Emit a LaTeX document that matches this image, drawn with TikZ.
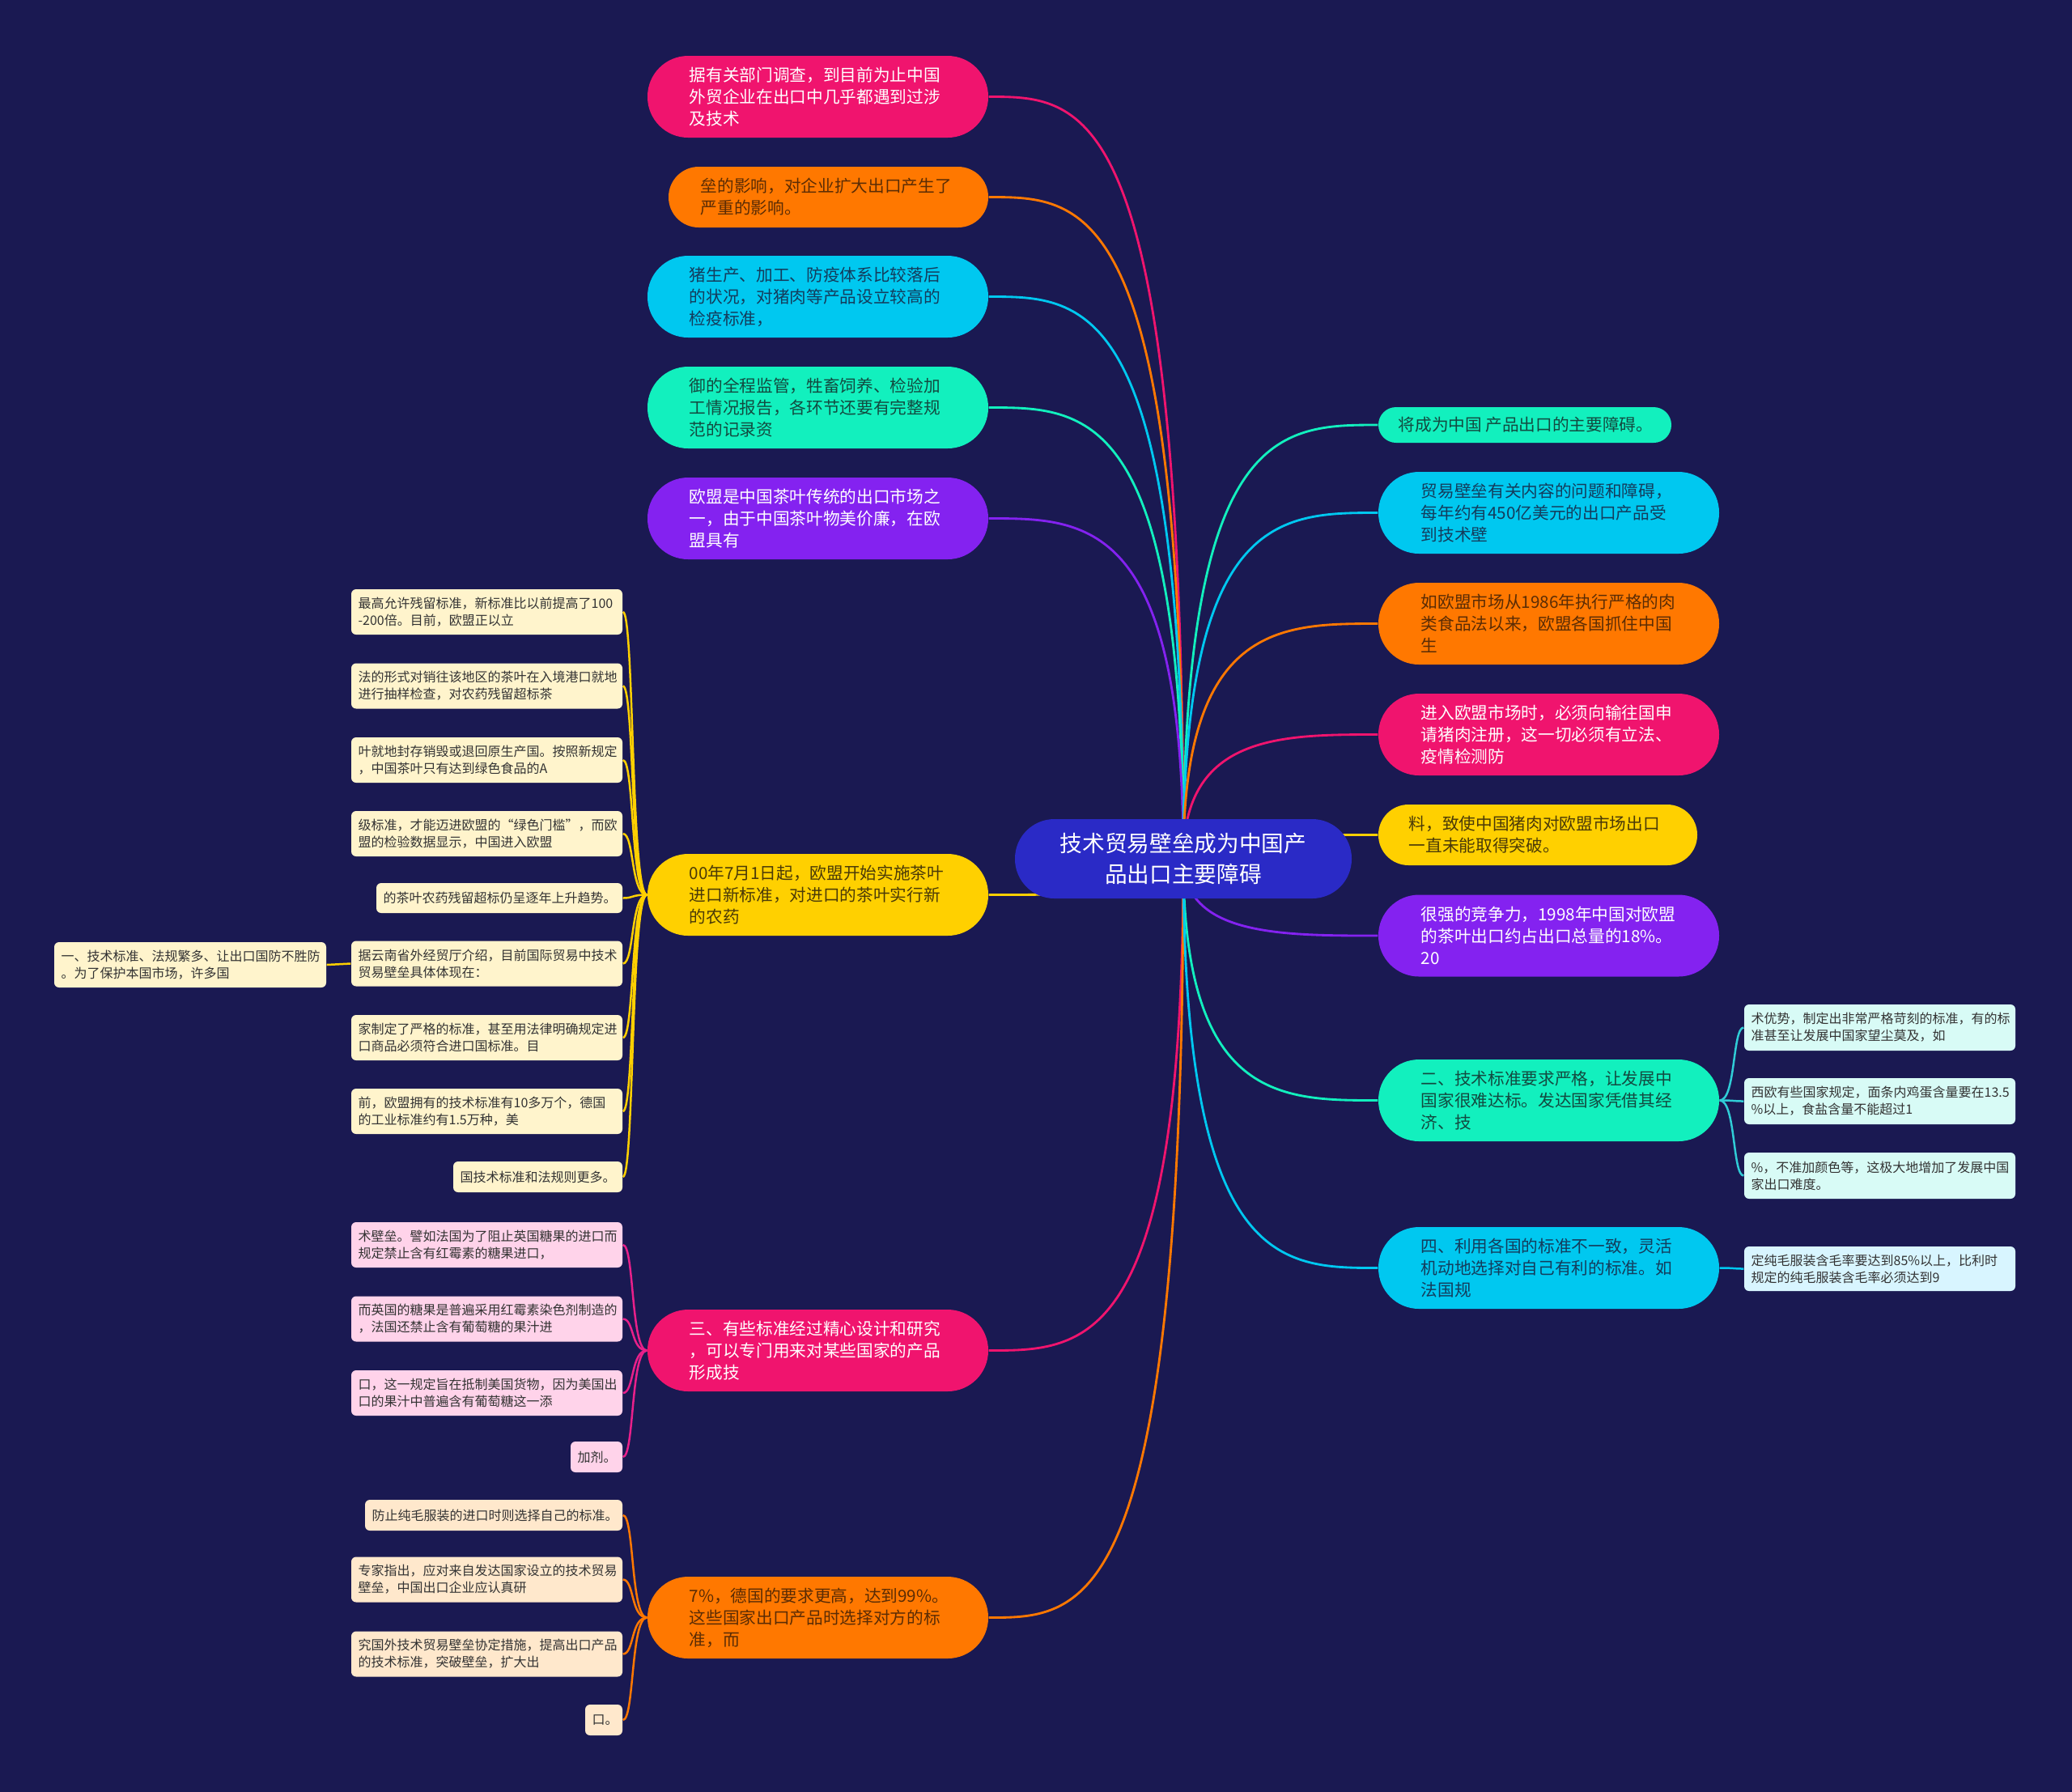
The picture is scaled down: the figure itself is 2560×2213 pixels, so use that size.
\documentclass[tikz,border=0pt]{standalone}
\usepackage{fontspec}
\newfontfamily\cjk{Noto Sans CJK SC}
\usetikzlibrary{calc}
\pgfdeclarelayer{bg}
\pgfsetlayers{bg,main}
\definecolor{bgc}{HTML}{1A1952}
\definecolor{cenc}{HTML}{2A2AC6}
\definecolor{pinkc}{HTML}{F0146E}
\definecolor{orac}{HTML}{FF7800}
\definecolor{cyac}{HTML}{00C8F0}
\definecolor{aquc}{HTML}{12F0BE}
\definecolor{purc}{HTML}{8422F0}
\definecolor{yelc}{HTML}{FFD000}
\definecolor{yfill}{HTML}{FFF4CC}
\definecolor{pfill}{HTML}{FFD3EA}
\definecolor{ofill}{HTML}{FFE8CC}
\definecolor{afill}{HTML}{D8FBF6}
\definecolor{cfill}{HTML}{D8F5FF}
\definecolor{tora}{HTML}{5A2C05}
\definecolor{tcya}{HTML}{143C5C}
\definecolor{taqu}{HTML}{124A40}
\definecolor{tyel}{HTML}{4A3A08}
\definecolor{tchild}{HTML}{333333}
\definecolor{pinkl}{HTML}{E8208A}
\definecolor{tealc}{HTML}{30CCD6}
\tikzset{
  mtext/.style={inner sep=0pt, anchor=west, align=left, font=\cjk\fontsize{6.2pt}{8.1pt}\selectfont},
  ctext/.style={inner sep=0pt, anchor=west, align=left, text=tchild, font=\cjk\fontsize{4.8pt}{6.3pt}\selectfont},
  conn/.style={line width=0.85pt},
  sconn/.style={line width=0.75pt}
}
\newcommand\mnode[6]{\node[inner sep=0pt, fill=#6, minimum width=#4*0.3pt, minimum height=#5*0.3pt, rounded corners=#5*0.149pt] (#1) at (#2,#3) {};}
\newcommand\cnode[6]{\node[inner sep=0pt, fill=#6, minimum width=#4*0.3pt, minimum height=#5*0.3pt, rounded corners=1.8pt] (#1) at (#2,#3) {};}
\newcommand\conL[2]{\draw[conn, draw=#2] (C.center) .. controls (C.center |- #1.east) and ($(C.center |- #1.east)!0.5!(#1.east)$) .. (#1.east);}
\newcommand\conR[2]{\draw[conn, draw=#2] (C.center) .. controls (C.center |- #1.west) and ($(C.center |- #1.west)!0.5!(#1.west)$) .. (#1.west);}
\newcommand\subL[3]{\draw[sconn, draw=#3] (#1.west) .. controls ($(#1.west)+(-20,0)$) and ($(#2.east)+(14,0)$) .. (#2.east);}
\newcommand\subR[3]{\draw[sconn, draw=#3] (#1.east) .. controls ($(#1.east)+(20,0)$) and ($(#2.west)+(-14,0)$) .. (#2.west);}
\begin{document}
\begin{tikzpicture}[x=0.3pt, y=-0.3pt]
\useasboundingbox (0,0) rectangle (2560,2213);
% center
\mnode{C}{1462}{1061}{416}{98}{cenc}
\node[inner sep=0pt, align=center, text=white, font=\cjk\fontsize{8.3pt}{11.3pt}\selectfont] (Ct) at (1462,1061) {技术贸易壁垒成为中国产\\品出口主要障碍};
% left main nodes
\mnode{L1}{1010.5}{119.5}{421}{101}{pinkc}
\node[mtext, text=white] (L1t) at (851,119.5) {据有关部门调查，到目前为止中国\\外贸企业在出口中几乎都遇到过涉\\及技术};
\mnode{L2}{1023.5}{243.5}{395}{75}{orac}
\node[mtext, text=tora] (L2t) at (865,243.5) {垒的影响，对企业扩大出口产生了\\严重的影响。};
\mnode{L3}{1010.5}{366.5}{421}{101}{cyac}
\node[mtext, text=tcya] (L3t) at (851,366.5) {猪生产、加工、防疫体系比较落后\\的状况，对猪肉等产品设立较高的\\检疫标准，};
\mnode{L4}{1010.5}{503.5}{421}{101}{aquc}
\node[mtext, text=taqu] (L4t) at (851,503.5) {御的全程监管，牲畜饲养、检验加\\工情况报告，各环节还要有完整规\\范的记录资};
\mnode{L5}{1010.5}{640.5}{421}{101}{purc}
\node[mtext, text=white] (L5t) at (851,640.5) {欧盟是中国茶叶传统的出口市场之\\一，由于中国茶叶物美价廉，在欧\\盟具有};
\mnode{L6}{1010.5}{1105.5}{421}{101}{yelc}
\node[mtext, text=tyel] (L6t) at (851,1105.5) {00年7月1日起，欧盟开始实施茶叶\\进口新标准，对进口的茶叶实行新\\的农药};
\mnode{L7}{1010.5}{1668.5}{421}{101}{pinkc}
\node[mtext, text=white] (L7t) at (851,1668.5) {三、有些标准经过精心设计和研究\\，可以专门用来对某些国家的产品\\形成技};
\mnode{L8}{1010.5}{1998.5}{421}{101}{orac}
\node[mtext, text=tora] (L8t) at (851,1998.5) {7\%，德国的要求更高，达到99\%。\\这些国家出口产品时选择对方的标\\准，而};
% right main nodes
\mnode{R1}{1884}{525}{362}{44}{aquc}
\node[mtext, text=taqu] (R1t) at (1727,525) {将成为中国 产品出口的主要障碍。};
\mnode{R2}{1913.5}{633.5}{421}{101}{cyac}
\node[mtext, text=tcya] (R2t) at (1755,633.5) {贸易壁垒有关内容的问题和障碍，\\每年约有450亿美元的出口产品受\\到技术壁};
\mnode{R3}{1913.5}{770.5}{421}{101}{orac}
\node[mtext, text=tora] (R3t) at (1755,770.5) {如欧盟市场从1986年执行严格的肉\\类食品法以来，欧盟各国抓住中国\\生};
\mnode{R4}{1913.5}{907.5}{421}{101}{pinkc}
\node[mtext, text=white] (R4t) at (1755,907.5) {进入欧盟市场时，必须向输往国申\\请猪肉注册，这一切必须有立法、\\疫情检测防};
\mnode{R5}{1900}{1031.5}{394}{75}{yelc}
\node[mtext, text=tyel] (R5t) at (1740,1031.5) {料，致使中国猪肉对欧盟市场出口\\一直未能取得突破。};
\mnode{R6}{1913.5}{1156}{421}{101}{purc}
\node[mtext, text=white] (R6t) at (1755,1156) {很强的竞争力，1998年中国对欧盟\\的茶叶出口约占出口总量的18\%。\\20};
\mnode{R7}{1913.5}{1359.5}{421}{101}{aquc}
\node[mtext, text=taqu] (R7t) at (1755,1359.5) {二、技术标准要求严格，让发展中\\国家很难达标。发达国家凭借其经\\济、技};
\mnode{R8}{1913.5}{1566.5}{421}{101}{cyac}
\node[mtext, text=tcya] (R8t) at (1755,1566.5) {四、利用各国的标准不一致，灵活\\机动地选择对自己有利的标准。如\\法国规};
% yellow children
\cnode{Y1}{601.5}{756}{335}{56}{yfill}
\node[ctext] (Y1t) at (442,756) {最高允许残留标准，新标准比以前提高了100\\-200倍。目前，欧盟正以立};
\cnode{Y2}{601.5}{847.5}{335}{56}{yfill}
\node[ctext] (Y2t) at (442,847.5) {法的形式对销往该地区的茶叶在入境港口就地\\进行抽样检查，对农药残留超标茶};
\cnode{Y3}{601.5}{939}{335}{56}{yfill}
\node[ctext] (Y3t) at (442,939) {叶就地封存销毁或退回原生产国。按照新规定\\，中国茶叶只有达到绿色食品的A};
\cnode{Y4}{601.5}{1030}{335}{56}{yfill}
\node[ctext] (Y4t) at (442,1030) {级标准，才能迈进欧盟的“绿色门槛”，而欧\\盟的检验数据显示，中国进入欧盟};
\cnode{Y5}{617}{1109.5}{304}{37}{yfill}
\node[ctext] (Y5t) at (473,1109.5) {的茶叶农药残留超标仍呈逐年上升趋势。};
\cnode{Y6}{601.5}{1190.5}{335}{56}{yfill}
\node[ctext] (Y6t) at (442,1190.5) {据云南省外经贸厅介绍，目前国际贸易中技术\\贸易壁垒具体体现在：};
\cnode{Y6a}{235}{1192}{336}{56}{yfill}
\node[ctext] (Y6at) at (75,1192) {一、技术标准、法规繁多、让出口国防不胜防\\。为了保护本国市场，许多国};
\cnode{Y7}{601.5}{1282}{335}{56}{yfill}
\node[ctext] (Y7t) at (442,1282) {家制定了严格的标准，甚至用法律明确规定进\\口商品必须符合进口国标准。目};
\cnode{Y8}{601.5}{1373}{335}{56}{yfill}
\node[ctext] (Y8t) at (442,1373) {前，欧盟拥有的技术标准有10多万个，德国\\的工业标准约有1.5万种，美};
\cnode{Y9}{664.5}{1454}{209}{38}{yfill}
\node[ctext] (Y9t) at (568,1454) {国技术标准和法规则更多。};
% pink children
\cnode{P1}{601.5}{1538}{335}{56}{pfill}
\node[ctext] (P1t) at (442,1538) {术壁垒。譬如法国为了阻止英国糖果的进口而\\规定禁止含有红霉素的糖果进口，};
\cnode{P2}{601.5}{1629.5}{335}{56}{pfill}
\node[ctext] (P2t) at (442,1629.5) {而英国的糖果是普遍采用红霉素染色剂制造的\\，法国还禁止含有葡萄糖的果汁进};
\cnode{P3}{601.5}{1721}{335}{56}{pfill}
\node[ctext] (P3t) at (442,1721) {口，这一规定旨在抵制美国货物，因为美国出\\口的果汁中普遍含有葡萄糖这一添};
\cnode{P4}{737}{1800}{64}{38}{pfill}
\node[ctext] (P4t) at (713,1800) {加剂。};
% orange children
\cnode{O1}{610}{1872}{318}{38}{ofill}
\node[ctext] (O1t) at (459,1872) {防止纯毛服装的进口时则选择自己的标准。};
\cnode{O2}{601.5}{1951.5}{335}{56}{ofill}
\node[ctext] (O2t) at (442,1951.5) {专家指出，应对来自发达国家设立的技术贸易\\壁垒，中国出口企业应认真研};
\cnode{O3}{601.5}{2043.5}{335}{56}{ofill}
\node[ctext] (O3t) at (442,2043.5) {究国外技术贸易壁垒协定措施，提高出口产品\\的技术标准，突破壁垒，扩大出};
\cnode{O4}{746}{2125}{46}{38}{ofill}
\node[ctext] (O4t) at (731,2125) {口。};
% right children
\cnode{A1}{2322.5}{1269.5}{335}{57}{afill}
\node[ctext] (A1t) at (2163,1269.5) {术优势，制定出非常严格苛刻的标准，有的标\\准甚至让发展中国家望尘莫及，如};
\cnode{A2}{2322.5}{1360.5}{335}{57}{afill}
\node[ctext] (A2t) at (2163,1360.5) {西欧有些国家规定，面条内鸡蛋含量要在13.5\\\%以上，食盐含量不能超过1};
\cnode{A3}{2322.5}{1452.5}{335}{57}{afill}
\node[ctext] (A3t) at (2163,1452.5) {\%，不准加颜色等，这极大地增加了发展中国\\家出口难度。};
\cnode{B1}{2322.5}{1567.5}{335}{55}{cfill}
\node[ctext] (B1t) at (2163,1567.5) {定纯毛服装含毛率要达到85\%以上，比利时\\规定的纯毛服装含毛率必须达到9};
% connectors
\begin{pgfonlayer}{bg}
\fill[bgc] (-10,-10) rectangle (2570,2225);
\conL{L1}{pinkc}
\conL{L2}{orac}
\conL{L3}{cyac}
\conL{L4}{aquc}
\conL{L5}{purc}
\conL{L6}{yelc}
\conL{L7}{pinkc}
\conL{L8}{orac}
\conR{R1}{aquc}
\conR{R2}{cyac}
\conR{R3}{orac}
\conR{R4}{pinkc}
\conR{R5}{yelc}
\conR{R6}{purc}
\conR{R7}{aquc}
\conR{R8}{cyac}
\subL{L6}{Y1}{yelc}
\subL{L6}{Y2}{yelc}
\subL{L6}{Y3}{yelc}
\subL{L6}{Y4}{yelc}
\subL{L6}{Y5}{yelc}
\subL{L6}{Y6}{yelc}
\subL{L6}{Y7}{yelc}
\subL{L6}{Y8}{yelc}
\subL{L6}{Y9}{yelc}
\draw[sconn, draw=yelc] (Y6.west) -- (Y6a.east);
\subL{L7}{P1}{pinkl}
\subL{L7}{P2}{pinkl}
\subL{L7}{P3}{pinkl}
\subL{L7}{P4}{pinkl}
\subL{L8}{O1}{orac}
\subL{L8}{O2}{orac}
\subL{L8}{O3}{orac}
\subL{L8}{O4}{orac}
\subR{R7}{A1}{tealc}
\subR{R7}{A2}{tealc}
\subR{R7}{A3}{tealc}
\subR{R8}{B1}{cyac}
\end{pgfonlayer}
\end{tikzpicture}
\end{document}
